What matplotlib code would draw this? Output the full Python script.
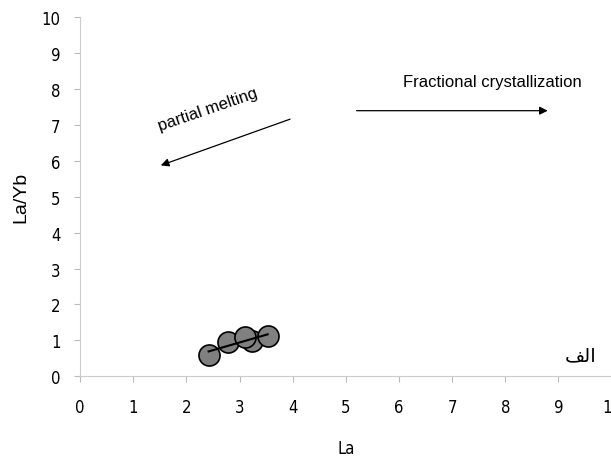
import numpy as np
import matplotlib.pyplot as plt

# Datos
la = [2.42, 2.78, 3.24, 3.11, 3.53]
la_yb = [0.60, 0.95, 0.98, 1.08, 1.12]
ticks = list(range(0, 11))

plt.rcParams['font.family'] = ['Liberation Sans', 'DejaVu Sans']

fig = plt.figure(figsize=(6.11, 4.60), dpi=100)
ax = fig.add_axes([0.131, 0.180, 0.870, 0.780])

ax.scatter(la, la_yb, s=230, c='#808080', edgecolors='black', linewidths=1.2, zorder=3)

# línea de tendencia
m, b = np.polyfit(la, la_yb, 1)
xs = np.array([min(la), max(la)])
ax.plot(xs, m * xs + b, color='black', lw=1.5, zorder=4)

# flechas y textos
ax.annotate('', xy=(1.47, 5.85), xytext=(4.0, 7.19),
            arrowprops=dict(arrowstyle='-|>', color='black', lw=0.9, mutation_scale=12))
ax.text(2.4, 7.45, 'partial melting', rotation=19, ha='center', va='center', fontsize=12)
ax.annotate('', xy=(8.85, 7.4), xytext=(5.15, 7.4),
            arrowprops=dict(arrowstyle='-|>', color='black', lw=0.9, mutation_scale=12))
ax.text(7.75, 8.2, 'Fractional crystallization', ha='center', va='center', fontsize=12)
ax.text(9.72, 0.6, '\ufed2\ufedf\ufe8d', ha='right', va='center', fontsize=14,
        family=['DejaVu Sans'])

ax.set_xlim(0, 10)
ax.set_ylim(0, 10)
ax.set_xticks(ticks)
ax.set_yticks(ticks)
ax.set_xticklabels([str(t) for t in ticks], fontsize=12, family='DejaVu Sans', stretch='condensed')
ax.set_yticklabels([str(t) for t in ticks], fontsize=12, family='DejaVu Sans', stretch='condensed')
ax.tick_params(colors='#bbbbbb', labelcolor='black', length=4, pad=10)
ax.tick_params(axis='x', pad=12)

for s in ['top', 'right']:
    ax.spines[s].set_visible(False)
for s in ['left', 'bottom']:
    ax.spines[s].set_color('#cccccc')

ax.set_ylabel('La/Yb', fontsize=14, labelpad=9)
ax.set_xlabel('La', fontsize=12, family='DejaVu Sans', stretch='condensed', labelpad=16)

fig.savefig('out.png', dpi=100)
